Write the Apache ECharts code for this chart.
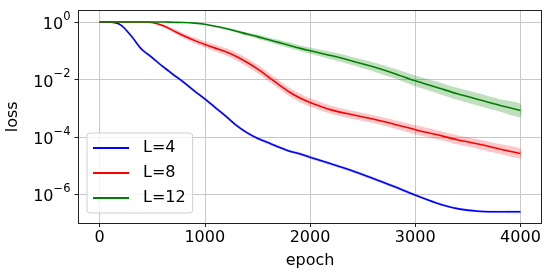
<!DOCTYPE html>
<html><head><meta charset="utf-8">
<script src="https://cdn.jsdelivr.net/npm/echarts@6/dist/echarts.min.js"></script>
<style>html,body{margin:0;padding:0;background:#fff}#c{width:555px;height:278px}</style>
</head><body><div id="c"></div>
<script>
const epochs = [0,100,200,300,400,500,600,700,800,900,1000,1100,1200,1300,1400,1500,1600,1700,1800,1900,2000,2200,2400,2600,2800,3000,3200,3400,3600,3800,4000];
const lossL4 = [1,0.99,0.794,0.33,0.112,0.0575,0.0282,0.0148,7.94e-3,3.98e-3,2.09e-3,1.05e-3,5.25e-4,2.51e-4,1.41e-4,8.91e-5,6.31e-5,4.47e-5,3.24e-5,2.57e-5,1.95e-5,1.15e-5,6.61e-6,3.55e-6,1.86e-6,9.33e-7,5.01e-7,3.16e-7,2.57e-7,2.45e-7,2.45e-7];
const lossL8 = [1,1,1,1,1,0.955,0.759,0.501,0.331,0.229,0.166,0.123,0.0912,0.0631,0.0398,0.0234,0.0126,6.76e-3,3.72e-3,2.29e-3,1.58e-3,8.71e-4,5.89e-4,4.17e-4,2.75e-4,1.78e-4,1.20e-4,7.94e-5,5.62e-5,3.80e-5,2.63e-5];
const lossL12 = [1,1,1,1,1,1,1,0.977,0.955,0.912,0.832,0.708,0.589,0.479,0.38,0.309,0.245,0.195,0.155,0.123,0.1,0.0676,0.0437,0.0275,0.0162,8.91e-3,5.37e-3,3.16e-3,2.0e-3,1.26e-3,8.32e-4];
// half-width of the shaded band, in decades
const bandL4 = [0,0,0.03,0.04,0.05,0.05,0.05,0.05,0.05,0.05,0.05,0.05,0.05,0.05,0.05,0.05,0.05,0.05,0.05,0.05,0.05,0.05,0.05,0.05,0.05,0.04,0.04,0.04,0.04,0.04,0.04];
const bandL8 = [0,0,0,0,0,0.02,0.05,0.07,0.09,0.1,0.11,0.12,0.13,0.14,0.15,0.15,0.15,0.15,0.15,0.15,0.15,0.14,0.14,0.14,0.15,0.16,0.16,0.16,0.17,0.17,0.17];
const bandL12 = [0,0,0,0,0,0,0,0,0.01,0.01,0.02,0.03,0.04,0.05,0.06,0.07,0.08,0.09,0.1,0.1,0.11,0.13,0.14,0.16,0.17,0.19,0.2,0.21,0.22,0.22,0.23];
const seriesNames = ['L=4','L=8','L=12'];
const lineColors = ['#0000ff','#ff0000','#008000'];
const bandColors = ['rgba(0,0,255,0.22)','rgba(255,0,0,0.22)','rgba(0,128,0,0.25)'];
const xTickLabels = ['0','1000','2000','3000','4000'];

const FONT = 'DejaVu Sans';
const allLoss = [lossL4, lossL8, lossL12];
const allBand = [bandL4, bandL8, bandL12];
const series = [];
allLoss.forEach((loss, k) => {
  const bandData = loss.map((v, i) => [epochs[i], v / Math.pow(10, allBand[k][i]), v * Math.pow(10, allBand[k][i])]);
  series.push({
    name: 'band' + k, type: 'custom', silent: true, z: 1 + k * 2,
    data: [0],
    renderItem: (params, api) => {
      const up = bandData.map(d => api.coord([d[0], d[2]]));
      const lo = bandData.map(d => api.coord([d[0], d[1]])).reverse();
      return { type: 'polygon', shape: { points: up.concat(lo), smooth: 0.2 }, style: { fill: bandColors[k], stroke: null } };
    }
  });
  series.push({
    name: seriesNames[k], type: 'line', data: loss.map((v, i) => [epochs[i], v]), symbol: 'none',
    lineStyle: { color: lineColors[k], width: 1.6 }, itemStyle: { color: lineColors[k] },
    smooth: 0.3, z: 2 + k * 2
  });
});

const frameAxis = { show: true, axisLine: { show: true, onZero: false, lineStyle: { color: '#222', width: 1 } }, axisTick: { show: false }, axisLabel: { show: false }, splitLine: { show: false } };

const chart = echarts.init(document.getElementById('c'), null, { renderer: 'canvas' });
chart.setOption({
  animation: false,
  backgroundColor: '#fff',
  textStyle: { fontFamily: FONT },
  grid: { left: 78.5, right: 13.5, top: 10.5, bottom: 55, containLabel: false, outerBoundsMode: 'none', show: false },
  xAxis: [{
    type: 'value', min: -200, max: 4200,
    name: 'epoch', nameLocation: 'middle', nameGap: 30,
    nameTextStyle: { fontFamily: FONT, fontSize: 16, color: '#000' },
    axisLine: { show: true, onZero: false, lineStyle: { color: '#222', width: 1 } },
    axisTick: { show: true, length: 4, lineStyle: { color: '#222' } },
    axisLabel: { showMinLabel: false, showMaxLabel: false, margin: 7, fontFamily: FONT, fontSize: 16, color: '#000',
      formatter: v => xTickLabels.indexOf(String(v)) >= 0 ? String(v) : '' },
    splitLine: { show: true, lineStyle: { color: '#c8c8c8', width: 1 } }
  }, Object.assign({ type: 'value', min: -200, max: 4200, position: 'top' }, frameAxis)],
  yAxis: [{
    type: 'log', logBase: 100, min: 1e-7, max: 2.512,
    name: 'loss', nameLocation: 'middle', nameGap: 58, nameRotate: 90,
    nameTextStyle: { fontFamily: FONT, fontSize: 16, color: '#000' },
    axisLine: { show: true, onZero: false, lineStyle: { color: '#222', width: 1 } },
    axisTick: { show: true, length: 4, lineStyle: { color: '#222' } },
    axisLabel: {
      showMinLabel: false, showMaxLabel: false, margin: 8,
      formatter: v => { const e = Math.round(Math.log10(v)); return '{b|10}{s|' + (e < 0 ? '\u2212' : '') + Math.abs(e) + '}'; },
      rich: {
        b: { fontFamily: FONT, fontSize: 16, color: '#000', lineHeight: 22, verticalAlign: 'bottom' },
        s: { fontFamily: FONT, fontSize: 11.5, color: '#000', lineHeight: 12, verticalAlign: 'top' }
      }
    },
    splitLine: { show: true, lineStyle: { color: '#c8c8c8', width: 1 } }
  }, Object.assign({ type: 'log', logBase: 100, min: 1e-7, max: 2.512, position: 'right' }, frameAxis)],
  legend: {
    data: seriesNames, orient: 'vertical', left: 87, top: 133,
    backgroundColor: 'rgba(255,255,255,0.8)', borderColor: '#d0d0d0', borderWidth: 1, borderRadius: 3,
    padding: [7, 7, 7, 6], itemGap: 9, itemWidth: 36, itemHeight: 2, icon: 'rect',
    textStyle: { fontFamily: FONT, fontSize: 16, color: '#000', lineHeight: 16, padding: [0, 0, 0, 9] }
  },
  series: series
});
</script></body></html>
